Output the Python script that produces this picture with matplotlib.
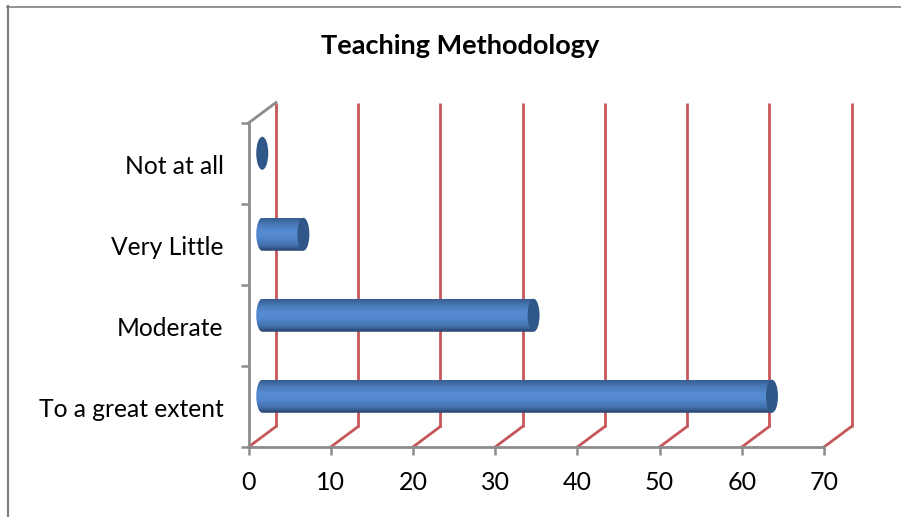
import matplotlib
matplotlib.use("Agg")
import matplotlib.pyplot as plt
import numpy as np
from matplotlib.patches import Ellipse, PathPatch
from matplotlib.path import Path
from matplotlib.transforms import Affine2D
from matplotlib.lines import Line2D

categories = ["To a great extent", "Moderate", "Very Little", "Not at all"]
values = [62, 33, 5, 0]
xticks = [0, 10, 20, 30, 40, 50, 60, 70]
title = "Teaching Methodology"

W, H = 901, 517
plt.rcParams['font.family'] = ['Lato', 'DejaVu Sans']
fig = plt.figure(figsize=(W / 100, H / 100), dpi=100)
L, R, T, B = 248.5, 824.0, 123.0, 447.0
ax = fig.add_axes([L / W, 1 - B / H, (R - L) / W, (B - T) / H])
ax.set_xlim(0, 70)
ax.set_ylim(-0.5, 3.5)
ax.patch.set_visible(False)
for s in ['top', 'right']:
    ax.spines[s].set_visible(False)
for s in ['left', 'bottom']:
    ax.spines[s].set_color('#8c8c8c')
    ax.spines[s].set_linewidth(2.0)

ax.set_xticks(xticks)
ax.set_xticklabels([str(v) for v in xticks], fontsize=18, color='black')
ax.set_yticks(np.arange(-0.5, 4, 1))
ax.set_yticklabels([])
ax.tick_params(axis='both', length=6, width=1.8, color='#8c8c8c', pad=11)
ax.tick_params(axis='x', direction='out')
ax.tick_params(axis='y', direction='out')
for i, c in enumerate(categories):
    ax.annotate(c, xy=(0, i), xycoords=('data', 'data'), xytext=(-25, -3),
                textcoords='offset pixels', ha='right', va='center',
                fontsize=17.7, color='black')

to_px = ax.transData
DX, DY = 27.5, 20.5
full = to_px + Affine2D().translate(DX, DY)
half = to_px + Affine2D().translate(DX / 2, DY / 2)

# back wall grid lines with depth segments
red = '#c5575a'
for v in xticks:
    ax.add_line(Line2D([v, v], [-0.5, 3.5], transform=full, color=red, lw=2.0,
                       clip_on=False, zorder=1.5, solid_capstyle='butt'))
    p0 = to_px.transform((v, -0.5))
    ax.add_line(Line2D([p0[0], p0[0] + DX], [p0[1], p0[1] + DY], transform=None,
                       color=red, lw=2.0, clip_on=False, zorder=1.5))
# depth line at top of the vertical axis
p0 = to_px.transform((0, 3.5))
ax.add_line(Line2D([p0[0], p0[0] + DX], [p0[1], p0[1] + DY], transform=None,
                   color='#8c8c8c', lw=2.0, clip_on=False, zorder=1.6))

# cylinders
RX, RY = 6.0, 16.5
stops = np.array([[0.21, 0.37, 0.57], [0.29, 0.48, 0.73], [0.34, 0.55, 0.83],
                  [0.32, 0.53, 0.80], [0.27, 0.45, 0.69], [0.15, 0.26, 0.42]])
pos = np.array([0, 0.2, 0.42, 0.6, 0.82, 1.0])
tt = np.linspace(0, 1, 64)
grad = np.stack([np.interp(tt, pos, stops[:, k]) for k in range(3)], axis=1)[:, None, :]
cap = '#2f5788'

for i, v in enumerate(values):
    c0 = half.transform((0, i))
    c1 = half.transform((v, i))
    if v > 0:
        k = 0.5523
        verts = [(c0[0], c0[1] + RY),
                 (c1[0], c1[1] + RY),
                 (c1[0], c1[1] - RY),
                 (c0[0], c0[1] - RY),
                 (c0[0] - k * RX, c0[1] - RY),
                 (c0[0] - RX, c0[1] - k * RY),
                 (c0[0] - RX, c0[1]),
                 (c0[0] - RX, c0[1] + k * RY),
                 (c0[0] - k * RX, c0[1] + RY),
                 (c0[0], c0[1] + RY),
                 (c0[0], c0[1] + RY)]
        codes = [Path.MOVETO, Path.LINETO, Path.LINETO, Path.LINETO,
                 Path.CURVE4, Path.CURVE4, Path.CURVE4,
                 Path.CURVE4, Path.CURVE4, Path.CURVE4, Path.CLOSEPOLY]
        clip = PathPatch(Path(verts, codes), transform=None, facecolor='none',
                         edgecolor='none')
        ax.add_patch(clip)
        inv = ax.transData.inverted()
        a = inv.transform((c0[0] - RX, c0[1] - RY))
        b = inv.transform((c1[0], c1[1] + RY))
        im = ax.imshow(grad, extent=(a[0], b[0], a[1], b[1]), origin='upper',
                       aspect='auto', zorder=3, interpolation='bilinear')
        im.set_clip_path(clip)
    ax.add_patch(Ellipse(tuple(c1), 2 * RX, 2 * RY, transform=None, facecolor=cap,
                         edgecolor='none', zorder=4, clip_on=False))
ax.set_xlim(0, 70)
ax.set_ylim(-0.5, 3.5)

fig.text(460.5 / W, 1 - 46 / H, title, ha='center', va='center', fontsize=19.5,
         fontweight='bold', color='black')

# chart frame
fig.add_artist(Line2D([8 / W, 8 / W], [0, 1 - 6 / H],
                      transform=fig.transFigure, color='#808080', lw=1.6))
fig.add_artist(Line2D([7 / W, 1], [1 - 6.5 / H, 1 - 6.5 / H],
                      transform=fig.transFigure, color='#808080', lw=1.2))

fig.savefig('out.png', dpi=100)
